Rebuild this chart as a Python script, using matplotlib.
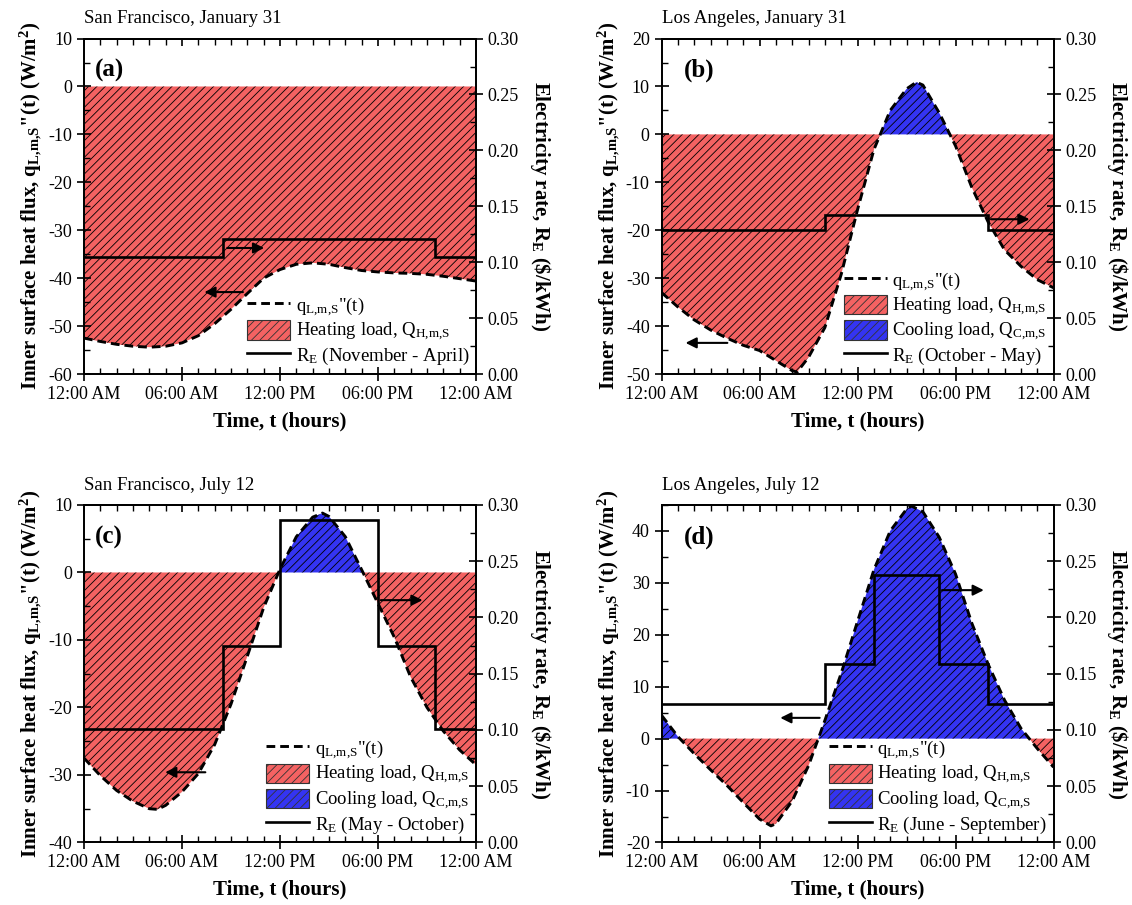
import matplotlib
matplotlib.use("Agg")
import matplotlib.pyplot as plt
from matplotlib.ticker import MultipleLocator, FormatStrFormatter
from matplotlib.lines import Line2D
from matplotlib.patches import Patch

plt.rcParams['font.family'] = 'Liberation Serif'
plt.rcParams['mathtext.fontset'] = 'custom'
plt.rcParams['mathtext.rm'] = 'Liberation Serif'
plt.rcParams['mathtext.it'] = 'Liberation Serif:italic'
plt.rcParams['mathtext.bf'] = 'Liberation Serif:bold'
plt.rcParams['axes.unicode_minus'] = False
plt.rcParams['hatch.linewidth'] = 0.6
plt.rcParams['axes.linewidth'] = 1.3

# ---- data (hours, W/m2, $/kWh) ----
hours_a = list(range(25))
flux_a = [-52.5, -53.2, -53.8, -54.2, -54.4, -54.2, -53.5, -52.0, -49.5, -46.5, -43.2, -40.0, -38.2,
          -37.1, -36.8, -37.1, -37.8, -38.4, -38.7, -38.9, -39.0, -39.2, -39.6, -40.1, -40.6]
rate_edges_a = [0, 8.5, 21.5, 24]
rate_a = [0.105, 0.121, 0.105]

hours_b = [0, 1, 2, 3, 4, 5, 6, 7, 8, 8.3, 9, 10, 11, 12, 13, 14, 15, 15.6, 16, 17, 18, 19, 20, 21, 22, 23, 24]
flux_b = [-33.0, -36.0, -38.7, -40.8, -42.5, -44.0, -45.1, -47.2, -49.3, -49.6, -46.5, -40.3, -29.2, -15.7,
          -3.2, 5.0, 9.5, 10.9, 10.3, 4.5, -2.4, -11.1, -18.3, -24.1, -27.5, -30.3, -32.0]
rate_edges_b = [0, 10, 20, 24]
rate_b = [0.1285, 0.142, 0.1285]

hours_c = [0, 1, 2, 3, 4, 4.5, 5, 6, 7, 8, 9, 10, 11, 12, 13, 14, 14.6, 15, 16, 17, 18, 19, 20, 21, 22, 23, 24]
flux_c = [-27.5, -30.1, -32.3, -33.9, -35.0, -35.1, -34.5, -32.5, -29.8, -25.5, -19.5, -12.4, -5.2, 0.5,
          5.3, 8.2, 8.8, 8.3, 5.3, 0.4, -4.6, -9.6, -15.5, -20.0, -23.5, -26.3, -28.5]
rate_edges_c = [0, 8.5, 12, 18, 21.5, 24]
rate_c = [0.101, 0.175, 0.287, 0.175, 0.101]

hours_d = [0, 1, 2, 3, 4, 5, 6, 6.7, 7, 8, 9, 10, 11, 12, 13, 14, 15, 15.3, 16, 17, 18, 19, 20, 21, 22, 23, 24]
flux_d = [4.5, 0.4, -2.9, -6.0, -9.0, -12.3, -15.5, -16.8, -16.4, -12.0, -5.2, 3.5, 12.6, 22.6, 32.5,
          40.0, 44.2, 44.8, 43.7, 38.8, 31.7, 22.2, 14.3, 7.4, 2.0, -1.9, -5.5]
rate_edges_d = [0, 10, 13, 17, 20, 24]
rate_d = [0.1235, 0.1585, 0.238, 0.1585, 0.1235]

time_ticks = [0, 6, 12, 18, 24]
time_labels = ['12:00 AM', '06:00 AM', '12:00 PM', '06:00 PM', '12:00 AM']

RED = '#F46262'
BLUE = '#3434F2'
DASH = (0, (3.0, 1.7))

fig = plt.figure(figsize=(11.32, 9.05), dpi=100)


def panel(rect, hours, flux, edges, rates, ylim, ystep, title, letter, letter_x,
          season, arrow_r, arrow_l, cooling=True):
    ax = fig.add_axes(rect)
    ax.fill_between(hours, flux, 0, where=[v <= 0 for v in flux], interpolate=True,
                    facecolor=RED, edgecolor='k', hatch='////', linewidth=0)
    if cooling:
        ax.fill_between(hours, flux, 0, where=[v >= 0 for v in flux], interpolate=True,
                        facecolor=BLUE, edgecolor='k', hatch='////', linewidth=0)
    ax.plot(hours, flux, color='k', lw=2.1, linestyle=DASH)
    ax.set_xlim(0, 24)
    ax.set_ylim(*ylim)
    ax.set_xticks(time_ticks)
    ax.set_xticklabels(time_labels)
    ax.xaxis.set_minor_locator(MultipleLocator(1))
    ax.yaxis.set_major_locator(MultipleLocator(ystep))
    ax.yaxis.set_minor_locator(MultipleLocator(ystep / 2))
    ax.tick_params(which='major', direction='inout', length=10, width=1.2, labelsize=13)
    ax.tick_params(which='minor', direction='in', length=4, width=1.0)

    top = ax.secondary_xaxis('top')
    top.set_xticks(time_ticks)
    top.set_xticklabels([])
    top.xaxis.set_minor_locator(MultipleLocator(1))
    top.tick_params(which='major', direction='in', length=5, width=1.2)
    top.tick_params(which='minor', direction='in', length=4, width=1.0)

    ax.set_xlabel('Time, t (hours)', fontsize=15, fontweight='bold', labelpad=6)
    ax.set_ylabel(r'Inner surface heat flux, q$_{\mathbf{L{,}m{,}S}}$"(t) (W/m$^{\mathbf{2}}$)',
                  fontsize=15, fontweight='bold', labelpad=3)
    ax.text(0, 1.045, title, transform=ax.transAxes, fontsize=13.5, ha='left', va='baseline')
    ax.text(letter_x, 0.905, letter, transform=ax.transAxes, fontsize=18, fontweight='bold',
            ha='left', va='center')

    ax.annotate('', xy=arrow_r[1], xytext=arrow_r[0],
                arrowprops=dict(arrowstyle='-|>', color='k', lw=1.5, mutation_scale=16))
    ax.annotate('', xy=arrow_l[1], xytext=arrow_l[0],
                arrowprops=dict(arrowstyle='-|>', color='k', lw=1.5, mutation_scale=16))

    ax2 = ax.twinx()
    ax2.stairs(rates, edges, baseline=None, color='k', lw=1.9)
    ax2.set_ylim(0, 0.30)
    ax2.yaxis.set_major_locator(MultipleLocator(0.05))
    ax2.yaxis.set_minor_locator(MultipleLocator(0.025))
    ax2.yaxis.set_major_formatter(FormatStrFormatter('%.2f'))
    ax2.tick_params(which='major', direction='inout', length=10, width=1.2, labelsize=13)
    ax2.tick_params(which='minor', direction='in', length=4, width=1.0)
    ax2.set_ylabel(r'Electricity rate, R$_{\mathbf{E}}$ (\$/kWh)', fontsize=15,
                   fontweight='bold', rotation=270, va='bottom', labelpad=6)

    handles = [Line2D([], [], color='k', lw=2.1, linestyle=DASH),
               Patch(facecolor=RED, edgecolor='#333333', hatch='////', lw=0.8)]
    labels = [r'q$_{\mathrm{L{,}m{,}S}}$"(t)', r'Heating load, Q$_{\mathrm{H{,}m{,}S}}$']
    if cooling:
        handles.append(Patch(facecolor=BLUE, edgecolor='#333333', hatch='////', lw=0.8))
        labels.append(r'Cooling load, Q$_{\mathrm{C{,}m{,}S}}$')
    handles.append(Line2D([], [], color='k', lw=1.9))
    labels.append(r'R$_{\mathrm{E}}$ (' + season + ')')
    ax2.legend(handles, labels, loc='lower right', bbox_to_anchor=(1.0, 0.0), frameon=False,
               fontsize=13.5, handlelength=2.3, handleheight=1.2, handletextpad=0.3,
               labelspacing=0.12, borderaxespad=0.15, borderpad=0.2)
    return ax, ax2


W = 0.3463
panel([0.0742, 0.5867, W, 0.3707], hours_a, flux_a, rate_edges_a, rate_a, (-60, 10), 10,
      'San Francisco, January 31', '(a)', 0.028, 'November - April',
      ((8.6, -33.7), (11.2, -33.7)), ((9.9, -42.9), (7.2, -42.9)), cooling=False)
panel([0.5844, 0.5867, W, 0.3707], hours_b, flux_b, rate_edges_b, rate_b, (-50, 20), 10,
      'Los Angeles, January 31', '(b)', 0.056, 'October - May',
      ((20.0, -17.7), (22.7, -17.7)), ((4.2, -43.5), (1.3, -43.5)))
panel([0.0742, 0.0691, W, 0.3729], hours_c, flux_c, rate_edges_c, rate_c, (-40, 10), 10,
      'San Francisco, July 12', '(c)', 0.028, 'May - October',
      ((18.0, -4.1), (20.9, -4.1)), ((7.6, -29.6), (4.8, -29.6)))
panel([0.5844, 0.0691, W, 0.3729], hours_d, flux_d, rate_edges_d, rate_d, (-20, 45), 10,
      'Los Angeles, July 12', '(d)', 0.056, 'June - September',
      ((17.0, 28.6), (19.9, 28.6)), ((9.85, 4.0), (7.1, 4.0)))

fig.savefig('out.png', dpi=100)
